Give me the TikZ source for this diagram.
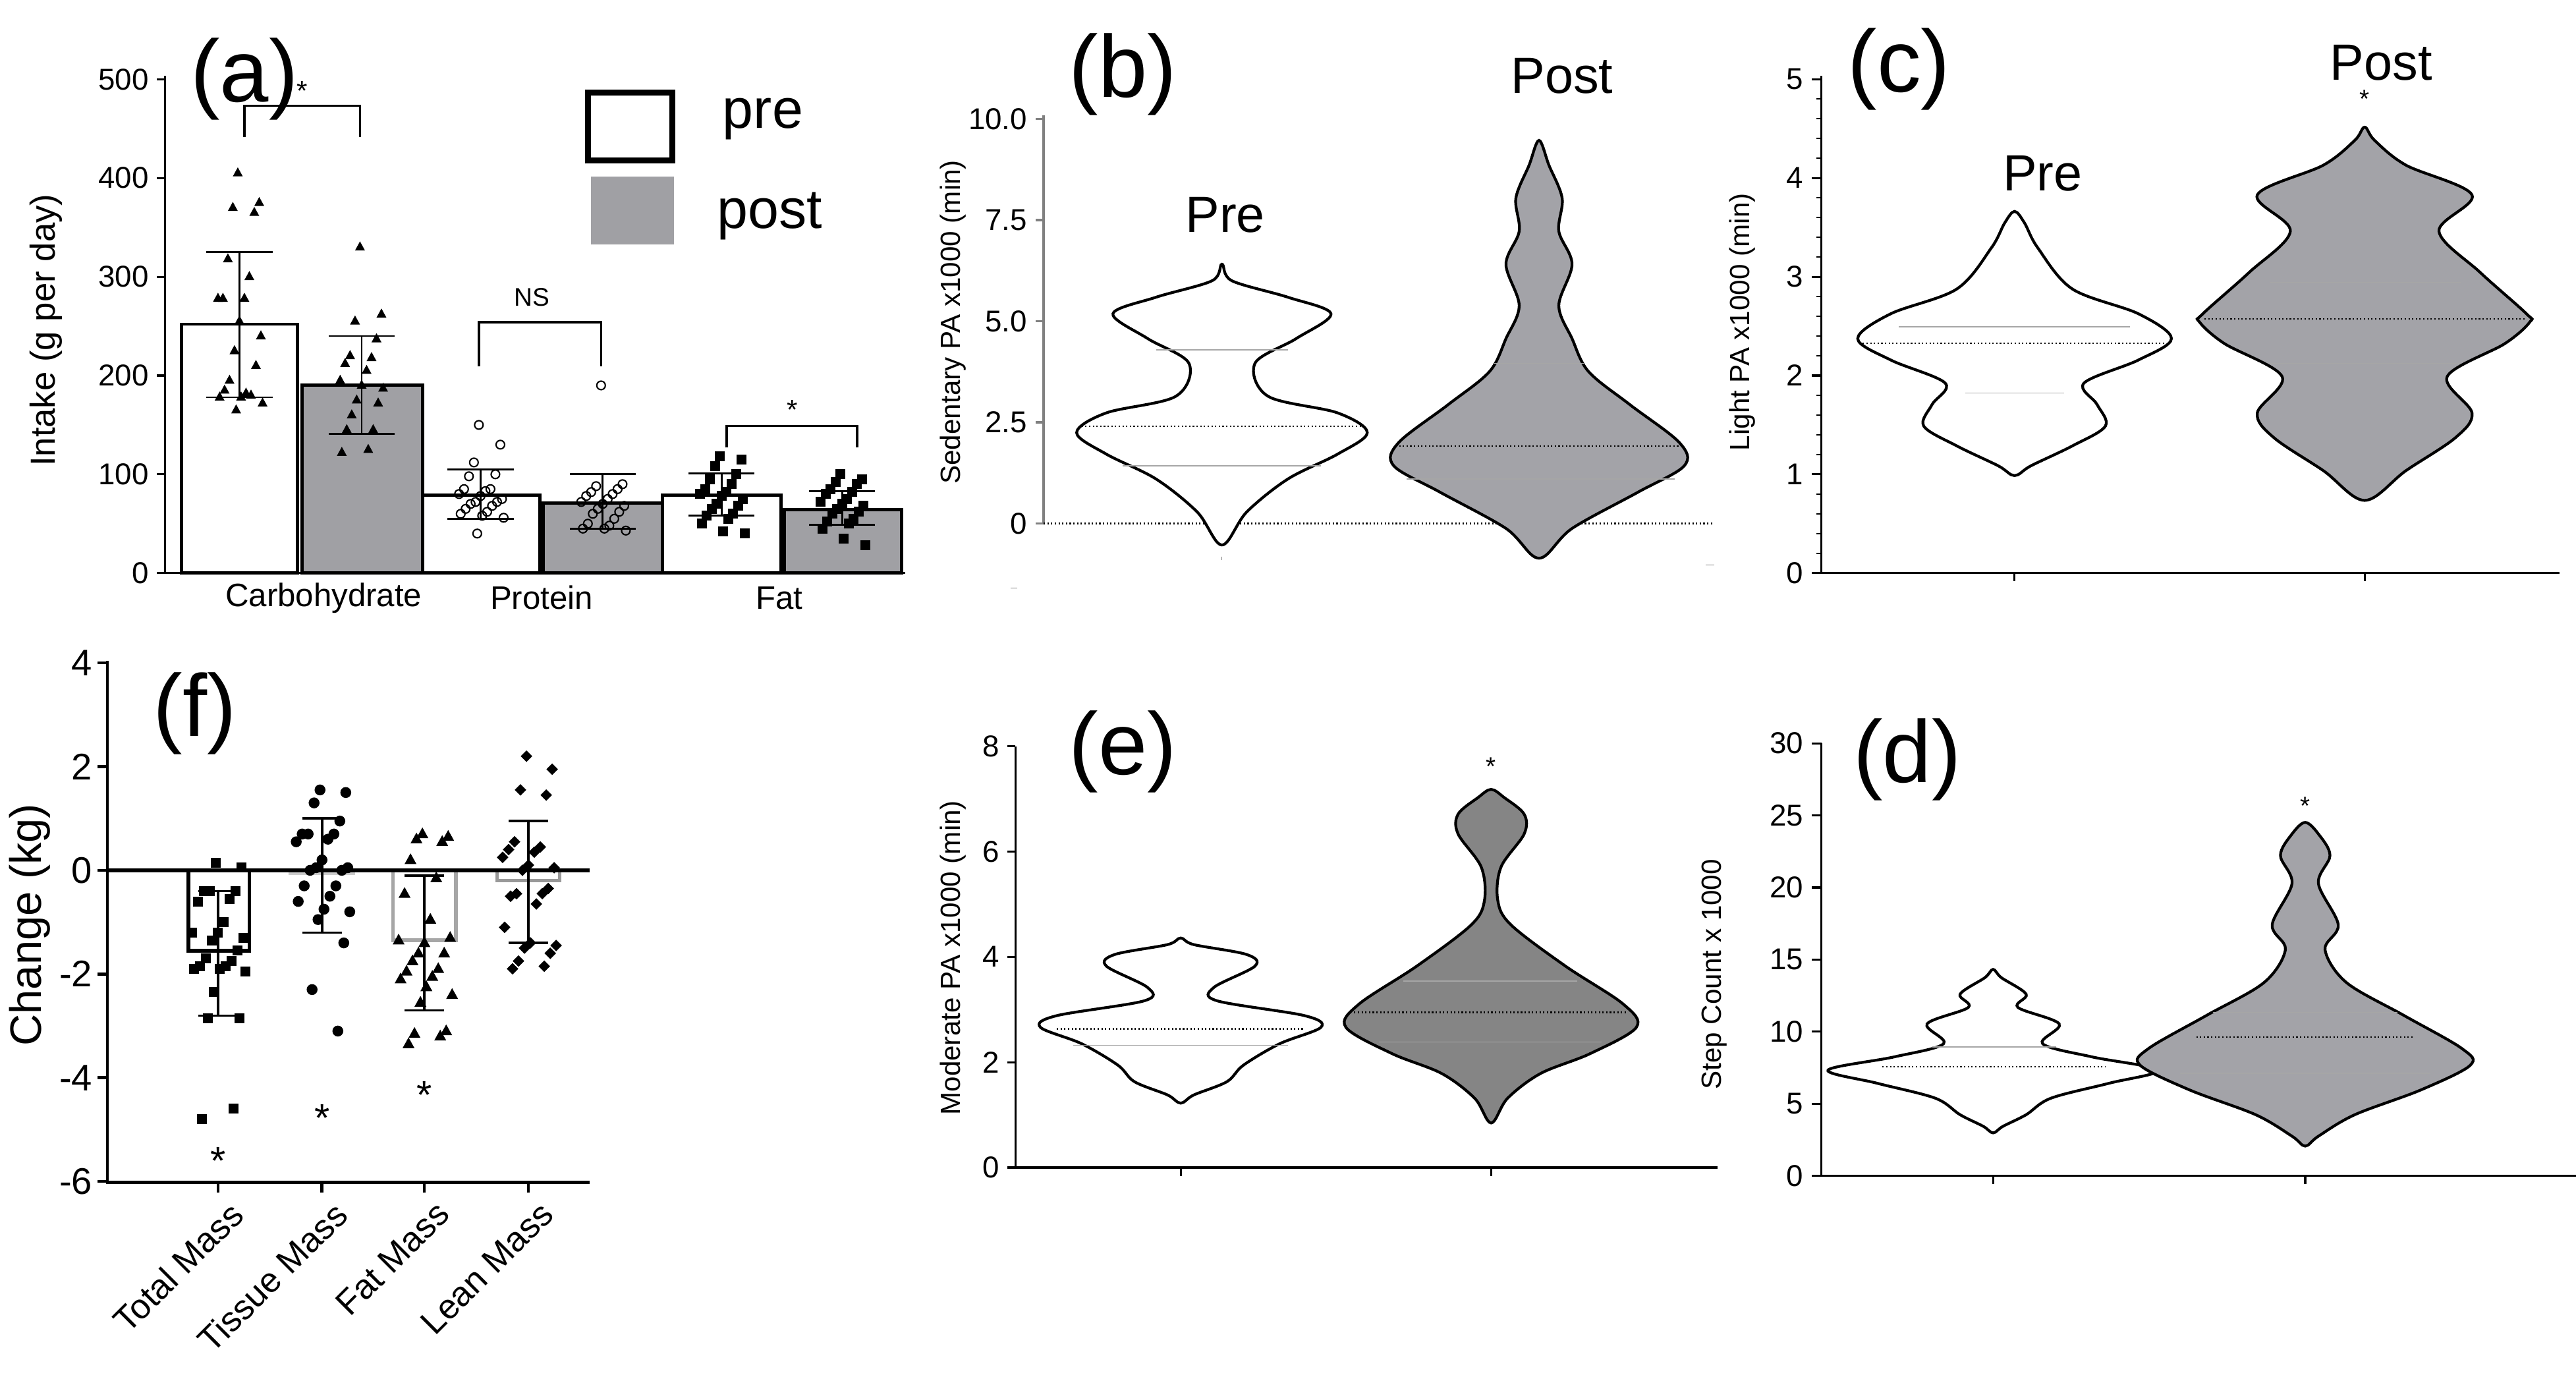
\documentclass[tikz,border=0pt]{standalone}
\usepackage{fontspec}
\setmainfont{Liberation Sans}
\definecolor{vgray}{HTML}{A3A3A8}
\definecolor{dgray}{HTML}{858585}
\definecolor{bgray}{HTML}{A0A0A4}
\newcommand\violin[5]{% cx, fill, top y, bottom y, list w/y
 \def\vR{}\def\vL{}%
 \foreach \w/\yy in {#5}{\pgfmathsetmacro\xr{#1+\w}\pgfmathsetmacro\xl{#1-\w}\xdef\vR{\vR (\xr,\yy)}\xdef\vL{(\xl,\yy)\vL}}%
 \edef\tmp{\noexpand\filldraw[fill=#2,line width=1.2pt] plot[smooth cycle,tension=0.55] coordinates {(#1,#3)\vR(#1,#4)\vL};}\tmp}
\tikzset{tick/.style={font=\fontsize{13}{13}\selectfont,anchor=east},
 plab/.style={font=\fontsize{38}{38}\selectfont},
 ax/.style={line width=0.9pt},
 q/.style={gray!70,line width=0.5pt},
 med/.style={densely dotted,line width=0.6pt}}
\begin{document}
\begin{tikzpicture}[x=0.02506cm,y=-0.02506cm]
\useasboundingbox (0,0) rectangle (1560,836);
%================ (a)
\node[plab] (la) at (148,48) {(a)};
\foreach \v in {0,100,...,500}{\draw[ax] (100,347-\v*0.598)--(95,347-\v*0.598); \node[tick] at (95,347-\v*0.598) {\v};}
\draw[ax] (100,46)--(100,347)--(548,347);
\node[rotate=90,font=\fontsize{15}{15}\selectfont] (ya) at (28,200) {Intake (g per day)};
\foreach \a/\b/\h/\f in {110/180/252/white,183/256/190/bgray,256/327/79/white,329/401/71/bgray,401/473/79/white,475/546/64/bgray}
 \filldraw[fill=\f,line width=1.4pt] (\a,347) rectangle (\b,347-\h*0.598);
\foreach \c/\lo/\hi in {145/178/325,219/141/240,291/55/105,365/45/100,437/58/101,510/49/83}{
 \draw[line width=0.8pt] (\c,347-\lo*0.598)--(\c,347-\hi*0.598);
 \draw[line width=0.8pt] (\c-20,347-\lo*0.598)--(\c+20,347-\lo*0.598) (\c-20,347-\hi*0.598)--(\c+20,347-\hi*0.598);}
% points
\foreach \v [count=\i] in {405,375,370,365,318,300,278,278,278,255,240,225,210,195,180,185,182,178,178,172,165}{
 \pgfmathsetmacro\dx{mod(\i*13,29)-14}\pgfmathsetmacro\yy{347-\v*0.598}
 \fill (145+\dx,\yy) +(0,-3.5)--+(3,2)--+(-3,2)--cycle;}
\foreach \v [count=\i] in {330,262,255,237,220,218,212,205,195,190,187,175,172,160,145,145,125,122}{
 \pgfmathsetmacro\dx{mod(\i*13,29)-14}\pgfmathsetmacro\yy{347-\v*0.598}
 \fill (219+\dx,\yy) +(0,-3.5)--+(3,2)--+(-3,2)--cycle;}
\foreach \v [count=\i] in {150,130,112,100,98,85,85,83,80,78,75,72,72,70,68,65,62,60,58,56,40}{
 \pgfmathsetmacro\dx{mod(\i*13,29)-14}\pgfmathsetmacro\yy{347-\v*0.598}
 \draw[line width=0.6pt] (291+\dx,\yy) circle[radius=2.6];}
\foreach \v [count=\i] in {190,90,88,85,82,80,78,75,72,70,68,65,62,60,55,50,48,45,45,43}{
 \pgfmathsetmacro\dx{mod(\i*13,29)-14}\pgfmathsetmacro\yy{347-\v*0.598}
 \draw[line width=0.6pt] (365+\dx,\yy) circle[radius=2.6];}
\foreach \v [count=\i] in {118,115,108,100,95,90,85,82,80,78,75,70,68,65,60,58,55,50,42,40}{
 \pgfmathsetmacro\dx{mod(\i*13,29)-14}\pgfmathsetmacro\yy{347-\v*0.598}
 \fill (437+\dx-3,\yy-3) rectangle +(6,6);}
\foreach \v [count=\i] in {100,95,92,90,85,82,80,75,72,70,68,65,62,60,55,52,50,45,35,28}{
 \pgfmathsetmacro\dx{mod(\i*13,29)-14}\pgfmathsetmacro\yy{347-\v*0.598}
 \fill (510+\dx-3,\yy-3) rectangle +(6,6);}
% brackets
\draw[line width=1pt] (148,83)--(148,64)--(218,64)--(218,83);
\node[font=\fontsize{12}{12}\selectfont] (s1) at (183,55) {*};
\draw[line width=1pt] (290,222)--(290,195)--(364,195)--(364,222);
\node[font=\fontsize{11}{11}\selectfont] (ns) at (322,180) {NS};
\draw[line width=1pt] (440,271)--(440,258)--(519,258)--(519,271);
\node[font=\fontsize{12}{12}\selectfont] (s2) at (480,248) {*};
% legend
\draw[line width=2.6pt] (356,56) rectangle (407,97);
\fill[bgray] (358,107) rectangle (408,148);
\node[font=\fontsize{24}{24}\selectfont] (lpre) at (462,72) {pre};
\node[font=\fontsize{24}{24}\selectfont] (lpost) at (466,131) {post};
\node[font=\fontsize{14}{14}\selectfont] (xc) at (196,362) {Carbohydrate};
\node[font=\fontsize{14}{14}\selectfont] (xp) at (328,362) {Protein};
\node[font=\fontsize{14}{14}\selectfont] (xf) at (472,362) {Fat};
%================ (b)
\node[plab] (lb) at (680,45) {(b)};
\draw[ax,gray] (632,70)--(632,317);
\foreach \v/\t in {0/0,2.5/2.5,5/5.0,7.5/7.5,10/10.0}{\draw[ax,gray] (632,317-\v*24.5)--(627,317-\v*24.5); \node[tick] at (627,317-\v*24.5) {\t};}
\draw[med] (632,317)--(1038,317);
\draw[gray] (740,337)--(740,339) (1033,342)--(1038,342) (612,356)--(616,356);
\node[rotate=90,font=\fontsize{12}{12}\selectfont] (yb) at (577,195) {Sedentary PA x1000 (min)};
\violin{740}{white}{160}{330}{6/170,40/180,66/190,45/205,20/220,28/240,70/250,88/262,70/275,40/290,15/310}
\draw[q] (700,212)--(780,212) (680,282)--(800,282);
\draw[med] (655,258)--(827,258);
\violin{932}{vgray}{85}{338}{6/100,14/120,12/140,20/160,12/185,20/205,30/225,55/245,85/268,88/282,60/298,20/320}
\draw[q] (905,220)--(960,220) (852,290)--(1014,290);
\draw[med] (845,270)--(1020,270);
\node[font=\fontsize{22}{22}\selectfont] (bpre) at (742,130) {Pre};
\node[font=\fontsize{22}{22}\selectfont] (bpost) at (946,46) {Post};
%================ (c)
\node[plab] (lc) at (1150,42) {(c)};
\draw[ax] (1103,46)--(1103,347)--(1550,347);
\foreach \v in {0,...,5}{\draw[ax] (1103,347-\v*59.8)--(1097,347-\v*59.8); \node[tick] at (1097,347-\v*59.8) {\v};}
\foreach \v in {0.2,0.4,...,4.9}{\draw[line width=0.5pt] (1103,347-\v*59.8)--(1100,347-\v*59.8);}
\draw[ax] (1220,347)--(1220,352) (1432,347)--(1432,352);
\node[rotate=90,font=\fontsize{12}{12}\selectfont] (yc) at (1055,195) {Light PA x1000 (min)};
\violin{1220}{white}{128}{288}{6/135,14/150,35/175,75/190,95/205,75/218,42/232,50/245,55/258,35/270,10/282}
\draw[q] (1150,198)--(1290,198) (1190,238)--(1250,238);
\draw[med] (1128,208)--(1312,208);
\violin{1432}{vgray}{77}{303}{6/85,25/100,65/118,45/140,70/165,98/190,100/195,85/208,50/228,65/250,55/265,25/285}
\draw[q] (1375,171)--(1490,171) (1375,220)--(1490,220);
\draw[med] (1335,193)--(1530,193);
\node[font=\fontsize{22}{22}\selectfont] (cpre) at (1237,105) {Pre};
\node[font=\fontsize{22}{22}\selectfont] (cpost) at (1442,38) {Post};
\node[font=\fontsize{11}{11}\selectfont] (cs) at (1432,60) {*};
%================ (e)
\node[plab] (le) at (680,455) {(e)};
\draw[ax] (615,452)--(615,707)--(1040,707);
\foreach \v in {0,2,...,8}{\draw[ax] (615,707-\v*31.9)--(610,707-\v*31.9); \node[tick] at (610,707-\v*31.9) {\v};}
\draw[ax] (715,707)--(715,712) (903,707)--(903,712);
\node[rotate=90,font=\fontsize{12}{12}\selectfont] (ye) at (577,580) {Moderate PA x1000 (min)};
\violin{715}{white}{568}{668}{8/572,40/578,45/585,20/598,22/606,75/615,85/622,60/632,38/645,28/655,8/663}
\draw[q] (650,633)--(780,633);
\draw[med] (640,623)--(790,623);
\violin{903}{dgray}{478}{680}{8/483,20/493,20/505,6/525,4/545,12/560,45/585,80/608,88/622,60/638,30/650,10/665}
\draw[q] (850,594)--(955,594) (835,631)--(970,631);
\draw[med] (820,613)--(985,613);
\node[font=\fontsize{11}{11}\selectfont] (es) at (903,464) {*};
%================ (d)
\node[plab] (ld) at (1155,460) {(d)};
\draw[ax] (1103,450)--(1103,712)--(1560,712);
\foreach \v in {0,5,...,30}{\draw[ax] (1103,712-\v*8.73)--(1097,712-\v*8.73); \node[tick] at (1097,712-\v*8.73) {\v};}
\draw[ax] (1207,712)--(1207,717) (1396,712)--(1396,717);
\node[rotate=90,font=\fontsize{12}{12}\selectfont] (yd) at (1038,590) {Step Count x 1000};
\violin{1207}{white}{587}{686}{5/592,20/602,15/610,40/620,30/632,60/640,100/648,70/656,35/665,20/675,6/682}
\draw[q] (1170,634)--(1245,634);
\draw[med] (1140,646)--(1275,646);
\violin{1396}{vgray}{498}{694}{8/505,15/518,8/535,20/560,12/575,25/595,60/615,95/635,100/645,70/660,30/675,8/688}
\draw[q] (1340,613)--(1452,613) (1320,650)--(1472,650);
\draw[med] (1330,628)--(1462,628);
\node[font=\fontsize{11}{11}\selectfont] (ds) at (1396,488) {*};
%================ (f)
\node[plab] (lf) at (118,432) {(f)};
\draw[line width=1.3pt] (65,400)--(65,716)--(357,716);
\foreach \v in {-6,-4,...,4}{\draw[line width=1.3pt] (65,527-\v*31.4)--(59,527-\v*31.4); \node[anchor=east,font=\fontsize{16}{16}\selectfont,inner sep=2pt] at (59,527-\v*31.4) {\v};}
\node[rotate=90,font=\fontsize{19}{19}\selectfont] (yf) at (18,560) {Change (kg)};
\foreach \c in {132,195,257,320}\draw[line width=1.3pt] (\c,716)--(\c,722);
\draw[line width=1.6pt] (114,527) rectangle (151,527+1.55*31.4);
\draw[line width=1.6pt,gray!40] (176,527) rectangle (214,527+0.05*31.4);
\draw[line width=1.6pt,gray!70] (238,527) rectangle (276,527+1.35*31.4);
\draw[line width=1.6pt,gray!80] (301,527) rectangle (339,527+0.2*31.4);
\draw[line width=1.6pt] (65,527)--(357,527);
\foreach \c/\lo/\hi in {132/-2.8/-0.4,195/-1.2/1.0,257/-2.7/-0.1,320/-1.4/0.95}{
 \draw[line width=1pt] (\c,527-\lo*31.4)--(\c,527-\hi*31.4) (\c-12,527-\lo*31.4)--(\c+12,527-\lo*31.4) (\c-12,527-\hi*31.4)--(\c+12,527-\hi*31.4);}
\foreach \v [count=\i] in {0.15,0.05,-0.4,-0.4,-0.4,-0.55,-0.6,-1.0,-1.2,-1.2,-1.3,-1.35,-1.55,-1.7,-1.75,-1.85,-1.85,-1.9,-1.9,-1.95,-2.35,-2.85,-2.85,-4.6,-4.8}{
 \pgfmathsetmacro\dx{mod(\i*13,29)-14}\pgfmathsetmacro\yy{527-\v*31.4}
 \fill (132+1.2*\dx-3,\yy-3) rectangle +(6,6);}
\foreach \v [count=\i] in {1.55,1.5,1.3,0.95,0.7,0.7,0.7,0.6,0.55,0.2,0.05,0.05,0.0,0.0,-0.3,-0.3,-0.5,-0.6,-0.75,-0.8,-0.95,-1.4,-2.3,-3.1}{
 \pgfmathsetmacro\dx{mod(\i*13,29)-14}\pgfmathsetmacro\yy{527-\v*31.4}
 \fill (195+1.2*\dx,\yy) circle[radius=3.3];}
\foreach \v [count=\i] in {0.7,0.65,0.6,0.55,0.2,-0.15,-0.45,-0.95,-1.35,-1.4,-1.3,-1.6,-1.6,-1.75,-1.9,-1.95,-2.05,-2.1,-2.25,-2.4,-2.55,-3.1,-3.15,-3.2,-3.35}{
 \pgfmathsetmacro\dx{mod(\i*13,29)-14}\pgfmathsetmacro\yy{527-\v*31.4}
 \fill (257+1.2*\dx,\yy) +(0,-4)--+(3.6,2.5)--+(-3.6,2.5)--cycle;}
\foreach \v [count=\i] in {2.2,1.95,1.55,1.45,0.55,0.45,0.4,0.35,0.25,0.1,0.05,0.0,-0.35,-0.45,-0.45,-0.5,-0.65,-1.1,-1.4,-1.45,-1.5,-1.6,-1.75,-1.85,-1.9}{
 \pgfmathsetmacro\dx{mod(\i*13,29)-14}\pgfmathsetmacro\yy{527-\v*31.4}
 \fill (320+1.2*\dx,\yy) +(0,-3.5)--+(3.5,0)--+(0,3.5)--+(-3.5,0)--cycle;}
\node[font=\fontsize{17}{17}\selectfont] (f1) at (132,703) {*};
\node[font=\fontsize{17}{17}\selectfont] (f2) at (195,677) {*};
\node[font=\fontsize{17}{17}\selectfont] (f3) at (257,663) {*};
\foreach \c/\t in {132/Total Mass,195/Tissue Mass,257/Fat Mass,320/Lean Mass}
 \node[rotate=45,anchor=north east,inner sep=1pt,font=\fontsize{15}{15}\selectfont] at (\c+6,724) {\t};
\end{tikzpicture}
\end{document}
